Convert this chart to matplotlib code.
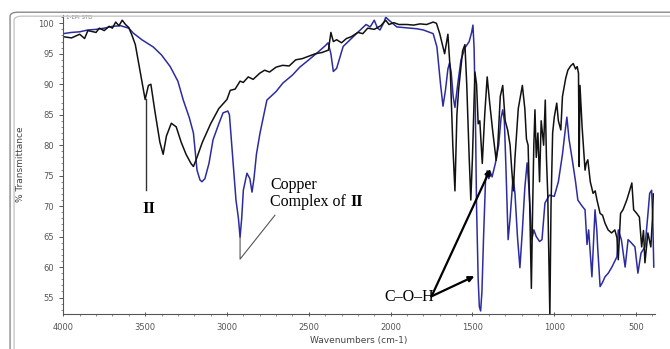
import numpy as np
import matplotlib
matplotlib.use('Agg')
import matplotlib.pyplot as plt
from matplotlib.patches import FancyBboxPatch

# ── Data ─────────────────────────────────────────────────────────────────────
# compound II (black trace): (wavenumber cm-1, %T)
ii_points = [
    (4000, 97.8), (3950, 97.6), (3900, 98.2), (3870, 97.5), (3850, 98.8), (3800, 98.5),
    (3780, 99.2), (3750, 98.8), (3720, 99.5), (3700, 99.2), (3680, 100.2), (3660, 99.6),
    (3640, 100.5), (3620, 99.8), (3600, 99.3), (3580, 98.0), (3560, 96.5), (3540, 93.5),
    (3520, 90.5), (3500, 87.5), (3480, 89.8), (3465, 90.0), (3440, 85.5), (3410, 80.5),
    (3390, 78.5), (3370, 81.5), (3340, 83.6), (3310, 83.0), (3280, 80.5), (3250, 78.5),
    (3220, 77.0), (3205, 76.5), (3190, 77.5), (3150, 80.5), (3100, 83.5), (3050, 86.0),
    (3000, 87.5), (2980, 89.0), (2950, 89.2), (2920, 90.5), (2900, 90.3), (2870, 91.2),
    (2840, 90.8), (2800, 91.8), (2770, 92.3), (2740, 92.0), (2700, 92.8), (2660, 93.1),
    (2620, 93.0), (2580, 94.0), (2540, 94.2), (2500, 94.6), (2460, 95.0), (2420, 95.2),
    (2380, 95.6), (2365, 98.5), (2350, 97.0), (2330, 97.3), (2300, 96.8), (2270, 97.5),
    (2240, 97.8), (2200, 98.5), (2170, 98.3), (2140, 99.2), (2100, 99.0), (2060, 99.6),
    (2030, 100.5), (2010, 99.8), (1980, 100.1), (1950, 99.8), (1900, 99.8), (1860, 99.7),
    (1820, 99.9), (1780, 99.8), (1740, 100.2), (1720, 100.0), (1700, 98.3), (1670, 95.0),
    (1650, 98.2), (1635, 92.0), (1620, 80.0), (1607, 72.5), (1595, 85.0), (1585, 89.0),
    (1570, 93.0), (1560, 95.5), (1546, 96.5), (1535, 90.0), (1520, 78.0), (1510, 71.0),
    (1500, 78.0), (1485, 92.0), (1475, 90.0), (1465, 83.5), (1455, 84.0), (1440, 77.0),
    (1425, 85.0), (1410, 91.2), (1395, 87.0), (1375, 82.0), (1355, 77.5), (1345, 80.0),
    (1330, 88.0), (1315, 89.8), (1300, 84.0), (1285, 82.5), (1270, 80.0), (1260, 76.0),
    (1250, 72.5), (1240, 78.0), (1220, 86.0), (1195, 89.8), (1180, 86.0), (1170, 81.0),
    (1160, 80.0), (1150, 70.0), (1140, 56.5), (1132, 70.0), (1125, 80.0), (1118, 85.8),
    (1110, 78.0), (1100, 82.0), (1090, 74.0), (1080, 84.0), (1065, 80.0), (1055, 87.4),
    (1048, 78.0), (1040, 72.0), (1032, 60.0), (1027, 52.0), (1020, 70.0), (1010, 82.0),
    (1000, 84.6), (985, 86.9), (975, 84.0), (960, 82.5), (950, 88.0), (930, 91.0),
    (917, 92.3), (900, 93.0), (884, 93.4), (870, 92.5), (860, 92.9), (852, 91.8),
    (848, 76.5), (843, 89.8), (830, 83.0), (812, 75.9), (805, 77.0), (795, 77.6),
    (780, 74.0), (763, 72.1), (750, 72.5), (739, 71.0), (720, 68.8), (705, 68.5),
    (690, 67.2), (671, 66.1), (650, 65.6), (630, 66.1), (617, 64.8), (609, 61.2),
    (595, 68.8), (580, 69.4), (557, 71.0), (540, 72.5), (526, 73.8), (515, 69.4),
    (496, 68.8), (480, 68.2), (466, 63.3), (455, 66.0), (446, 60.7), (428, 65.6),
    (410, 63.3), (400, 68.0), (395, 72.0),
]

# copper complex of II (blue trace)
cu_points = [
    (4000, 98.3), (3950, 98.5), (3900, 98.6), (3850, 98.9), (3800, 99.0), (3750, 99.2),
    (3700, 99.5), (3650, 99.6), (3600, 99.2), (3573, 98.4), (3520, 97.3), (3450, 96.1),
    (3400, 94.8), (3347, 92.9), (3300, 90.5), (3267, 87.4), (3230, 84.5), (3205, 82.0),
    (3183, 75.9), (3165, 74.3), (3153, 74.0), (3135, 74.5), (3110, 77.0), (3085, 80.9),
    (3050, 83.5), (3024, 85.3), (2995, 85.6), (2985, 85.0), (2965, 78.0), (2945, 71.0),
    (2930, 68.0), (2920, 64.9), (2910, 68.0), (2900, 72.6), (2878, 75.4), (2860, 74.5),
    (2847, 72.3), (2835, 74.5), (2820, 78.5), (2798, 82.0), (2756, 87.4), (2700, 88.8),
    (2658, 90.2), (2600, 91.5), (2555, 92.8), (2500, 94.0), (2451, 95.1), (2400, 96.3),
    (2382, 96.8), (2365, 95.0), (2350, 92.1), (2330, 92.6), (2290, 96.2), (2240, 97.5),
    (2205, 98.4), (2150, 99.8), (2125, 99.4), (2100, 100.5), (2080, 99.2), (2065, 98.9),
    (2040, 100.2), (2030, 101.0), (2010, 100.5), (1962, 99.4), (1920, 99.3), (1882, 99.2),
    (1840, 99.1), (1800, 98.9), (1760, 98.5), (1740, 98.3), (1717, 96.1), (1695, 90.0),
    (1680, 86.4), (1665, 89.0), (1650, 92.5), (1640, 93.5), (1630, 92.0), (1618, 88.0),
    (1607, 86.2), (1590, 90.0), (1570, 94.0), (1545, 96.0), (1520, 97.0), (1505, 98.5),
    (1497, 99.7), (1490, 96.0), (1482, 85.0), (1475, 70.0), (1465, 58.0), (1458, 53.5),
    (1450, 52.8), (1442, 56.0), (1432, 65.0), (1420, 74.3), (1410, 75.8), (1400, 74.5),
    (1390, 75.5), (1380, 74.8), (1360, 77.0), (1340, 80.0), (1325, 84.5), (1315, 85.8),
    (1305, 84.0), (1295, 76.0), (1282, 64.5), (1270, 68.0), (1252, 74.8), (1240, 72.0),
    (1225, 65.0), (1210, 59.9), (1195, 66.0), (1180, 73.0), (1166, 77.1), (1155, 73.0),
    (1137, 64.5), (1125, 66.1), (1110, 65.0), (1090, 64.2), (1075, 64.5), (1057, 70.5),
    (1030, 71.8), (1000, 71.6), (975, 74.0), (950, 78.5), (935, 82.0), (923, 84.6),
    (910, 81.0), (890, 77.6), (870, 74.0), (856, 71.0), (830, 70.0), (812, 69.4),
    (800, 63.7), (790, 66.1), (770, 58.4), (751, 69.4), (740, 66.0), (735, 63.3),
    (720, 56.8), (705, 57.5), (690, 58.4), (670, 59.0), (648, 60.0), (617, 61.7),
    (609, 66.1), (590, 64.5), (567, 60.0), (549, 64.5), (530, 64.0), (507, 63.3),
    (489, 59.0), (470, 62.3), (446, 63.3), (430, 68.0), (417, 72.1), (405, 72.6),
    (398, 67.7), (392, 60.0),
]

x_ticks = [4000, 3500, 3000, 2500, 2000, 1500, 1000, 500]
y_ticks = [55, 60, 65, 70, 75, 80, 85, 90, 95, 100]

ii = np.array(ii_points)
cu = np.array(cu_points)

# ── Figure ────────────────────────────────────────────────────────────────────
fig = plt.figure(figsize=(6.7, 3.49), dpi=100)
fig.patch.set_facecolor('white')

# outer window frame (double grey line, cut off at right/bottom)
for inset, col in [(0.0, '#8a8a8a'), (0.006, '#c8c8c8')]:
    fig.patches.append(FancyBboxPatch(
        (0.015 + inset, -0.2), 1.2, 1.165 - inset * 1.9,
        boxstyle='round,pad=0,rounding_size=0.012',
        transform=fig.transFigure, fill=False, edgecolor=col, linewidth=1.0))

ax = fig.add_axes([0.0945, 0.1003, 0.883, 0.8557])
ax.set_facecolor('none')

ax.plot(cu[:, 0], cu[:, 1], color='#2c2ca0', linewidth=1.1)
ax.plot(ii[:, 0], ii[:, 1], color='#111111', linewidth=1.1)

ax.set_xlim(4000, 385)
ax.set_ylim(52.3, 101.3)
ax.set_xticks(x_ticks)
ax.set_yticks(y_ticks)
ax.set_xticks(np.arange(4000, 385, -100), minor=True)
ax.set_yticks(np.arange(53, 102, 1), minor=True)
ax.tick_params(axis='both', which='major', labelsize=6, colors='#555555',
               length=3, width=0.7)
ax.tick_params(axis='both', which='minor', colors='#777777', length=1.5, width=0.6)
ax.tick_params(axis='x', direction='inout', pad=5)
for side in ('top', 'right'):
    ax.spines[side].set_visible(False)
for side in ('left', 'bottom'):
    ax.spines[side].set_color('#555555')
    ax.spines[side].set_linewidth(0.8)

fig.text(0.536, 0.023, 'Wavenumbers (cm-1)', ha='center', va='center',
         fontsize=6.5, color='#444444')
fig.text(0.031, 0.53, '% Transmittance', ha='center', va='center',
         rotation=90, fontsize=6.5, color='#444444')
ax.text(3985, 100.9, '1-EPI STD', fontsize=4, color='#777777', va='center')

# ── Annotations ───────────────────────────────────────────────────────────────
serif = ['Liberation Serif', 'DejaVu Serif']
ax.plot([3494, 3494], [87.5, 72.6], color='#333333', linewidth=1.0)
ax.text(3480, 69.6, 'II', family=serif, fontweight='bold', fontsize=12,
        ha='center', va='center')

ax.plot([2920, 2920, 2707], [64.9, 61.3, 68.5], color='#555555', linewidth=0.8)
ax.text(2737, 73.4, 'Copper', family=serif, fontsize=11.5, va='center')
t_cx = ax.text(2737, 70.6, 'Complex of', family=serif, fontsize=11.5, va='center')
# bold "II" placed right after "Complex of"
ax.annotate('II', xy=(1, 0.5), xycoords=t_cx, xytext=(3, 0),
            textcoords='offset points', family=serif, fontsize=11.5,
            fontweight='bold', va='center')

ax.text(2040, 55.1, 'C\u2013O\u2013H', family=serif, fontsize=11.5, va='center')
for tip in [(1488, 58.5), (1390, 76.1)]:
    ax.annotate('', xy=tip, xytext=(1750, 55.2),
                arrowprops=dict(arrowstyle='-|>', color='black', lw=1.6,
                                mutation_scale=8, shrinkA=0, shrinkB=0))

fig.savefig('out.png', dpi=100)
